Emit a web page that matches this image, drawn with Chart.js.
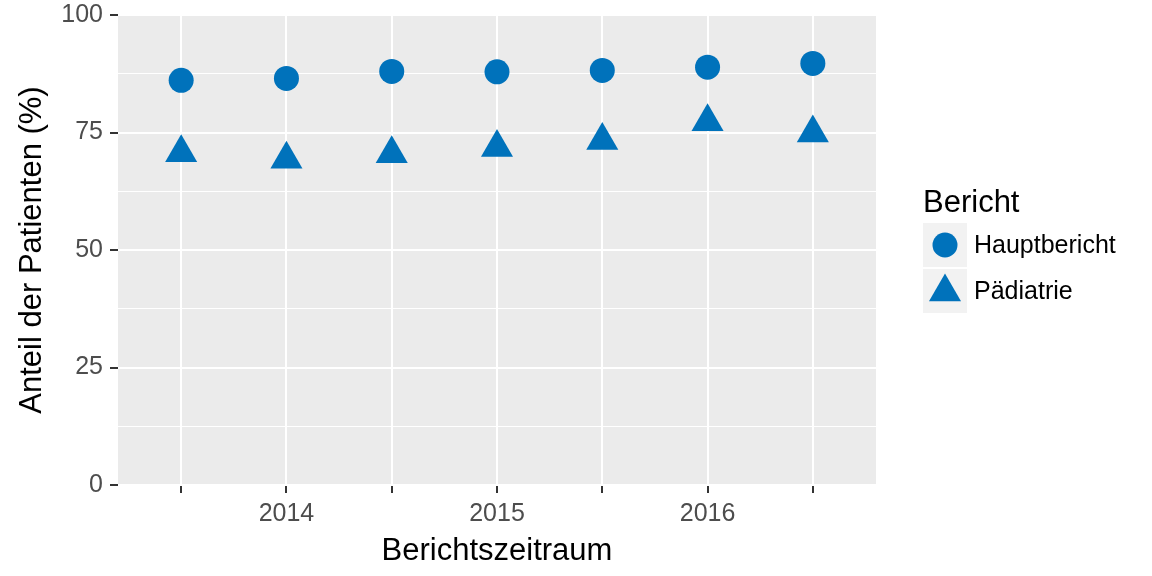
<!DOCTYPE html>
<html>
<head>
<meta charset="utf-8">
<script src="https://cdn.jsdelivr.net/npm/chart.js@4.4.0/dist/chart.umd.min.js"></script>
<style>
  html, body { margin: 0; padding: 0; background: #fff; }
  #c { display: block; }
</style>
</head>
<body>
<canvas id="c" width="1152" height="576"></canvas>
<script>
// Berichtszeiträume (Halbjahre), nur die Jahre bekommen eine Beschriftung
const periods     = ["2013-2", "2014-1", "2014-2", "2015-1", "2015-2", "2016-1", "2016-2"];
const xTickLabels = ["", "2014", "", "2015", "", "2016", ""];

// Anteil der Patienten (%)
const hauptbericht = [86.1, 86.5, 88.0, 87.9, 88.2, 88.9, 89.7];
const paediatrie   = [70.7, 69.3, 70.5, 71.8, 73.3, 77.3, 74.9];

const seriesNames = ["Hauptbericht", "Pädiatrie"];
const yTicks      = [0, 25, 50, 75, 100];
const yGrid       = [0, 12.5, 25, 37.5, 50, 62.5, 75, 87.5, 100];

const BLUE = "#0072BB";
const FONT = "'Liberation Sans', Arial, sans-serif";
Chart.defaults.font.family = FONT;

const toPoints = arr => arr.map((v, i) => ({ x: i, y: v }));

// grauer Panel-Hintergrund wie ggplot
const panelBg = {
  id: "panelBg",
  beforeDraw(chart) {
    const { ctx, chartArea: a } = chart;
    ctx.save();
    ctx.fillStyle = "#fff";
    ctx.fillRect(0, 0, chart.width, chart.height);
    ctx.fillStyle = "#EBEBEB";
    ctx.fillRect(a.left, a.top, a.right - a.left, a.bottom - a.top);
    ctx.restore();
  }
};

// Legende rechts (ggplot-Stil mit grauen Schlüsselfeldern)
const sideLegend = {
  id: "sideLegend",
  afterDraw(chart) {
    const ctx = chart.ctx;
    ctx.save();
    ctx.fillStyle = "#000";
    ctx.font = "31px " + FONT;
    ctx.textBaseline = "alphabetic";
    ctx.textAlign = "left";
    ctx.fillText("Bericht", 923, 212);

    const boxX = 923, boxSize = 44, boxTops = [223, 269];
    chart.data.datasets.forEach((ds, i) => {
      const top = boxTops[i];
      ctx.fillStyle = "#F2F2F2";
      ctx.fillRect(boxX, top, boxSize, boxSize);
      const cx = boxX + boxSize / 2;
      const cy = top + boxSize / 2 + (ds.pointStyle === "triangle" ? 1 : 0);
      ctx.fillStyle = ds.backgroundColor;
      Chart.helpers.drawPoint(ctx, {
        pointStyle: ds.pointStyle, radius: ds.pointRadius, rotation: 0, borderWidth: 0
      }, cx, cy);
      ctx.fillStyle = "#000";
      ctx.font = "25px " + FONT;
      ctx.textBaseline = "middle";
      ctx.fillText(seriesNames[i], 974, top + boxSize / 2 + 1);
    });
    ctx.restore();
  }
};

new Chart(document.getElementById("c"), {
  type: "scatter",
  data: {
    datasets: [
      {
        label: seriesNames[0],
        data: toPoints(hauptbericht),
        pointStyle: "circle",
        pointRadius: 12.5,
        pointHoverRadius: 12.5,
        backgroundColor: BLUE,
        borderWidth: 0
      },
      {
        label: seriesNames[1],
        data: toPoints(paediatrie),
        pointStyle: "triangle",
        pointRadius: 18.5,
        pointHoverRadius: 18.5,
        backgroundColor: BLUE,
        borderWidth: 0
      }
    ]
  },
  options: {
    responsive: false,
    animation: false,
    layout: { autoPadding: false, padding: { top: 15, right: 276, bottom: 0, left: 0 } },
    plugins: {
      legend: { display: false },
      tooltip: { enabled: false }
    },
    scales: {
      x: {
        type: "linear",
        min: -0.6,
        max: 6.6,
        afterBuildTicks: s => { s.ticks = periods.map((_, i) => ({ value: i })); },
        afterFit: s => { s.height = 91; s.paddingLeft = 0; s.paddingRight = 0; },
        border: { display: false },
        grid: { color: "#fff", lineWidth: 2, tickColor: "#333", tickLength: 8, tickWidth: 2 },
        ticks: {
          callback: (v, i) => xTickLabels[i] ?? "",
          color: "#4D4D4D",
          font: { size: 25 },
          padding: 6,
          maxRotation: 0,
          autoSkip: false
        },
        title: {
          display: true,
          text: "Berichtszeitraum",
          color: "#000",
          font: { size: 31 },
          padding: { top: 0, bottom: 6 }
        }
      },
      y: {
        min: 0,
        max: 100,
        afterBuildTicks: s => { s.ticks = yGrid.map(v => ({ value: v })); },
        afterFit: s => { s.width = 118; s.paddingTop = 0; s.paddingBottom = 0; },
        border: { display: false },
        grid: {
          color: "#fff",
          lineWidth: c => yTicks.includes(c.tick && c.tick.value) ? 2 : 1,
          tickColor: c => yTicks.includes(c.tick && c.tick.value) ? "#333" : "rgba(0,0,0,0)",
          tickLength: 8,
          tickWidth: 2
        },
        ticks: {
          callback: v => yTicks.includes(v) ? String(v) : "",
          color: "#4D4D4D",
          font: { size: 25 },
          padding: 7,
          autoSkip: false
        },
        title: {
          display: true,
          text: "Anteil der Patienten (%)",
          color: "#000",
          font: { size: 31 },
          padding: { top: 14, bottom: 0 }
        }
      }
    }
  },
  plugins: [panelBg, sideLegend]
});
</script>
</body>
</html>
